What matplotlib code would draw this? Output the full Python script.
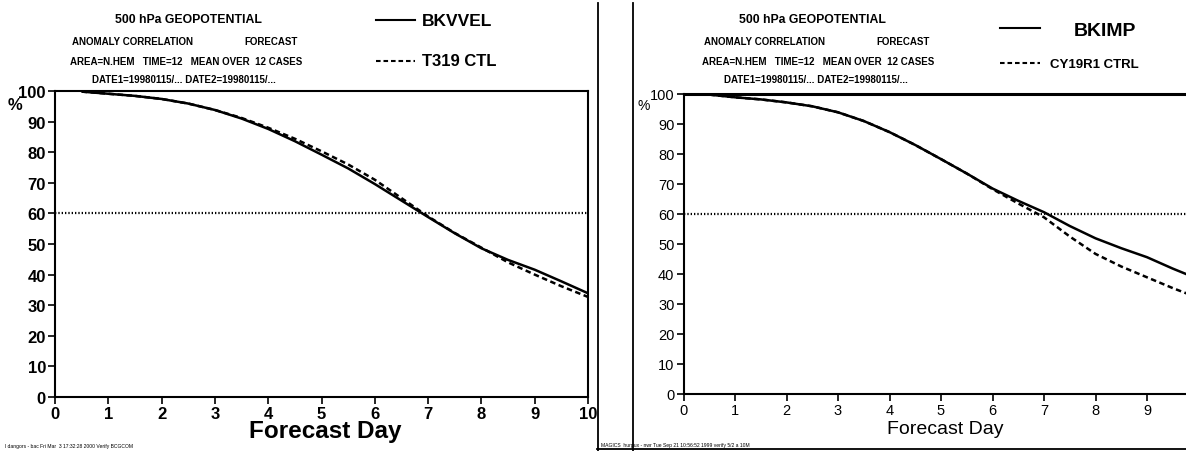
import numpy as np
import matplotlib
matplotlib.use('Agg')
import matplotlib.pyplot as plt
from matplotlib.lines import Line2D

plt.rcParams['font.family'] = ['Liberation Sans', 'DejaVu Sans']

# Dados (correlação de anomalia, %)
dias = [0.5, 1, 1.5, 2, 2.5, 3, 3.5, 4, 4.5, 5, 5.5, 6, 6.5, 7, 7.5, 8, 8.5, 9, 9.5, 10]

bkvvel = [99.8, 99.1, 98.4, 97.4, 95.9, 93.8, 91.0, 87.6, 83.6, 79.2,
          74.7, 69.6, 64.2, 58.8, 53.5, 48.6, 44.8, 41.6, 37.8, 33.9]
t319_ctl = [99.8, 99.1, 98.4, 97.4, 95.9, 93.8, 91.2, 88.0, 84.4, 80.3,
            76.0, 71.0, 65.0, 59.0, 53.6, 48.8, 44.0, 40.0, 36.2, 32.7]

bkimp = [99.8, 98.9, 98.2, 97.2, 95.9, 93.9, 91.0, 87.3, 83.0, 78.3,
         73.5, 68.5, 64.4, 60.6, 56.0, 51.9, 48.6, 45.6, 41.8, 38.3]
cy19r1_ctrl = [99.8, 98.9, 98.2, 97.2, 95.9, 93.9, 91.0, 87.3, 83.0, 78.3,
               73.5, 68.3, 63.5, 58.9, 52.5, 46.7, 42.5, 38.9, 35.3, 32.0]

xticks_esq = list(range(0, 11))
xticks_dir = list(range(0, 10))   # o dia 10 fica fora da página digitalizada
yticks = list(range(0, 101, 10))
limiar = 60

W, H = 1186, 452


def px(x, y):
    # pixel da imagem -> fração da figura
    return x / W, 1 - y / H


def eixo(fig, x0, x1, ytop, ybot):
    l, b = px(x0, ybot)
    r, t = px(x1, ytop)
    return fig.add_axes([l, b, r - l, t - b])


def painel(ax, solida, tracejada, xticks, negrito, tam):
    ax.plot(dias, solida, color='black', lw=1.8, solid_capstyle='butt')
    ax.plot(dias, tracejada, color='black', lw=1.8, ls=(0, (2.2, 1.4)))
    ax.axhline(limiar, color='black', lw=1.6, ls=(0, (0.6, 0.9)))
    ax.set_xlim(0, 10)
    ax.set_ylim(0, 100)
    ax.set_xticks(xticks)
    ax.set_yticks(yticks)
    peso = 'bold' if negrito else 'normal'
    ax.set_xticklabels([str(v) for v in xticks], fontsize=tam, fontweight=peso)
    ax.set_yticklabels([str(v) for v in yticks], fontsize=tam, fontweight=peso)
    ax.tick_params(direction='out', length=5, width=1.2, pad=1.5)
    for s in ax.spines.values():
        s.set_linewidth(1.5)


fig = plt.figure(figsize=(W / 100, H / 100), dpi=100)

# painel esquerdo
ax1 = eixo(fig, 55, 588, 92, 398)
painel(ax1, bkvvel, t319_ctl, xticks_esq, True, 12)

# painel direito (cortado na borda da imagem)
ax2 = eixo(fig, 683.5, 1198.5, 95, 395)
painel(ax2, bkimp, cy19r1_ctrl, xticks_dir, False, 10.5)
ax2.spines['right'].set_visible(False)
ax2.spines['top'].set_linewidth(2.2)


def texto(x, y, s, tam, peso='bold', ha='left'):
    fx, fy = px(x, y)
    fig.text(fx, fy, s, fontsize=tam, fontweight=peso, ha=ha, va='center')


# cabeçalhos
for dx, dx2 in ((0, 0), (624, 632)):
    texto(188 + dx, 20, '500 hPa GEOPOTENTIAL', 8.8, ha='center')
    texto(72 + dx2, 42, 'ANOMALY CORRELATION', 7)
    texto(298 + dx2, 42, 'FORECAST', 7, ha='right')
    texto(70 + dx2, 62, 'AREA=N.HEM   TIME=12   MEAN OVER  12 CASES', 7)
    texto(184 + dx2, 80, 'DATE1=19980115/... DATE2=19980115/...', 7, ha='center')

# legendas
def traco(x0, x1, y, ls):
    a, b = px(x0, y)
    c, _ = px(x1, y)
    fig.add_artist(Line2D([a, c], [b, b], color='black', lw=1.5, ls=ls,
                          transform=fig.transFigure))


traco(376, 415, 21, '-')
texto(422, 21, 'BKVVEL', 12.5)
traco(376, 415, 62, (0, (2.2, 1.4)))
texto(422, 62, 'T319 CTL', 12)

traco(1000, 1040, 29, '-')
texto(1074, 31, 'BKIMP', 14)
traco(1000, 1040, 64, (0, (2.2, 1.4)))
texto(1050, 65, 'CY19R1 CTRL', 9.5)

# símbolo de porcentagem
texto(8, 106, '%', 12)
texto(638, 106, '%', 10, peso='normal')

# rótulos do eixo x
texto(325, 432, 'Forecast Day', 17.5, ha='center')
texto(945, 430, 'Forecast Day', 14, peso='normal', ha='center')

# rodapés
texto(5, 447, 'l dangors - bac Fri Mar  3 17:32:28 2000 Verify BCGCOM', 3.6, peso='normal')
texto(601, 446, 'MAGICS  hurpux - nwr Tue Sep 21 10:56:52 1999 verify 5/2 a 10M', 3.6, peso='normal')

# bordas das páginas digitalizadas
for xv in (598, 633):
    a, _ = px(xv, 0)
    fig.add_artist(Line2D([a, a], [0, 1 - 4 / H], color='black', lw=1.3,
                          transform=fig.transFigure))
a, b = px(597, 450)
fig.add_artist(Line2D([a, 1], [b, b], color='black', lw=1.3,
                      transform=fig.transFigure))

fig.savefig('out.png', dpi=100)
